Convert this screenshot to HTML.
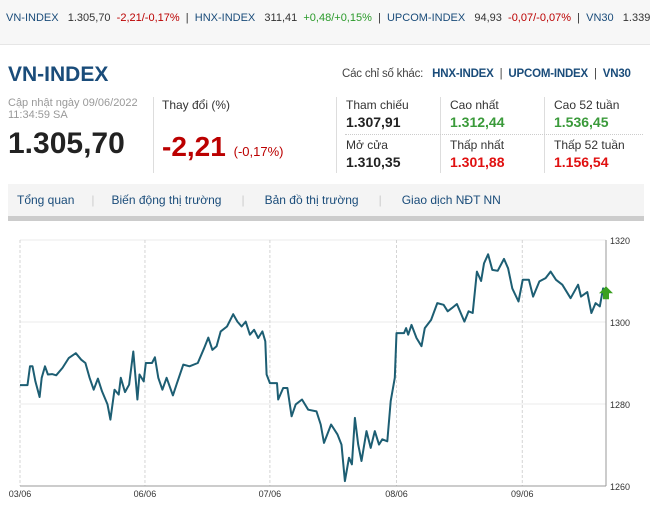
<!DOCTYPE html>
<html><head><meta charset="utf-8">
<style>
body{margin:0;width:650px;height:513px;background:#fff;font-family:"Liberation Sans",sans-serif;position:relative;overflow:hidden}
.a{position:absolute;white-space:nowrap}
.tk{font-size:11px;color:#333}
.blue{color:#1a4c7a}
.red{color:#b00}
.grn{color:#2a9a2a}
.lbl{font-size:12px;color:#333}
.val{font-size:14px;font-weight:bold;color:#222}
</style></head><body>
<div class="a" style="left:0;top:0;width:650px;height:44px;background:#f7f7f7;border-bottom:1px solid #e6e6e6"></div>
<div class="a tk" style="left:6px;top:12px;font-size:11px">
<span class="blue">VN-INDEX</span>&nbsp;&nbsp; 1.305,70 &nbsp;<span class="red">-2,21/-0,17%</span> &nbsp;| &nbsp;<span class="blue">HNX-INDEX</span>&nbsp;&nbsp; 311,41 &nbsp;<span class="grn">+0,48/+0,15%</span> &nbsp;| &nbsp;<span class="blue">UPCOM-INDEX</span>&nbsp;&nbsp; 94,93 &nbsp;<span class="red">-0,07/-0,07%</span> &nbsp;| &nbsp;<span class="blue">VN30</span>&nbsp;&nbsp; 1.339,0</div>

<div class="a blue" style="left:8px;top:63px;font-size:21px;font-weight:bold">VN-INDEX</div>
<div class="a" style="left:342px;top:68px;font-size:11.5px;color:#444;letter-spacing:-0.2px">Các chỉ số khác: &nbsp; <span class="blue" style="font-weight:bold">HNX-INDEX</span> &nbsp;| &nbsp;<span class="blue" style="font-weight:bold">UPCOM-INDEX</span> &nbsp;| &nbsp;<span class="blue" style="font-weight:bold">VN30</span></div>

<div class="a" style="left:8px;top:97px;font-size:11px;color:#999;line-height:12px">Cập nhật ngày 09/06/2022<br>11:34:59 SA</div>
<div class="a" style="left:8px;top:127px;font-size:30px;font-weight:bold;color:#222">1.305,70</div>
<div class="a" style="left:153px;top:97px;width:1px;height:76px;background:#ddd"></div>
<div class="a lbl" style="left:162px;top:98px">Thay đổi (%)</div>
<div class="a red" style="left:162px;top:131px;font-size:28px;font-weight:bold">-2,21 <span style="font-size:13px;font-weight:normal">(-0,17%)</span></div>

<div class="a" style="left:336px;top:97px;width:1px;height:76px;background:#ddd"></div>
<div class="a" style="left:440px;top:97px;width:1px;height:76px;background:#ddd"></div>
<div class="a" style="left:544px;top:97px;width:1px;height:76px;background:#ddd"></div>
<div class="a" style="left:345px;top:134px;width:298px;border-top:1px dotted #ccc"></div>
<div class="a lbl" style="left:346px;top:98px">Tham chiếu</div>
<div class="a val" style="left:346px;top:114px">1.307,91</div>
<div class="a lbl" style="left:346px;top:138px">Mở cửa</div>
<div class="a val" style="left:346px;top:154px">1.310,35</div>
<div class="a lbl" style="left:450px;top:98px">Cao nhất</div>
<div class="a val" style="left:450px;top:114px;color:#3a9a3a">1.312,44</div>
<div class="a lbl" style="left:450px;top:138px">Thấp nhất</div>
<div class="a val" style="left:450px;top:154px;color:#e01010">1.301,88</div>
<div class="a lbl" style="left:554px;top:98px">Cao 52 tuần</div>
<div class="a val" style="left:554px;top:114px;color:#3a9a3a">1.536,45</div>
<div class="a lbl" style="left:554px;top:138px">Thấp 52 tuần</div>
<div class="a val" style="left:554px;top:154px;color:#e01010">1.156,54</div>

<div class="a" style="left:8px;top:184px;width:636px;height:32px;background:#f4f4f4;border-bottom:5px solid #ccc"></div>
<div class="a blue" style="left:17px;top:193px;font-size:12px;color:#1a4c7a">
<span>Tổng quan</span><span style="color:#ccc;margin:0 17px">|</span><span>Biến động thị trường</span><span style="color:#ccc;margin:0 20px">|</span><span>Bản đồ thị trường</span><span style="color:#ccc;margin:0 20px">|</span><span>Giao dịch NĐT NN</span></div>

<svg class="a" id="chart" style="left:0;top:230px" width="650" height="283"></svg>
<script>
const yTicks=[1260,1280,1300,1320];
const dayLabels=["03/06","06/06","07/06","08/06","09/06"];
const dayStarts=[48,348,648,952,1254];
const timeIdx=[48,66,72,78,85,95,100,108,115,125,135,150,165,182,195,205,215,225,235,245,258,265,275,285,290,300,310,320,330,335,345,350,365,372,380,390,400,415,425,440,455,475,490,500,510,520,530,545,560,570,580,590,600,610,620,630,637,640,648,665,668,680,690,700,710,725,740,760,770,778,795,810,820,828,838,845,852,860,868,880,890,900,910,918,930,938,948,952,970,975,980,988,1000,1012,1020,1035,1050,1065,1075,1085,1097,1115,1125,1135,1145,1155,1162,1172,1182,1195,1210,1220,1230,1245,1255,1270,1280,1295,1310,1322,1335,1350,1370,1388,1395,1410,1420,1430,1440,1448,1455];
const values=[1284.6,1284.6,1289.2,1289.2,1285.5,1281.7,1286.4,1289.2,1287.2,1287.3,1287.0,1288.8,1291.2,1292.4,1290.8,1290.0,1286.4,1283.5,1286.2,1283.1,1279.9,1276.2,1283.5,1282.3,1286.4,1282.9,1284.7,1292.8,1281.1,1287.2,1285.5,1290.0,1290.0,1291.4,1286.4,1283.5,1286.4,1282.1,1285.1,1289.6,1289.2,1290.0,1293.6,1296.2,1293.2,1294.1,1297.7,1298.9,1301.9,1300.1,1298.9,1300.1,1296.9,1298.1,1296.1,1297.7,1295.3,1287.2,1285.1,1285.1,1281.1,1283.9,1283.9,1277.0,1279.9,1281.1,1278.6,1278.2,1275.0,1270.5,1275.0,1272.6,1270.1,1261.2,1266.9,1265.3,1276.6,1270.1,1266.1,1273.4,1269.3,1273.4,1270.1,1271.4,1270.9,1280.7,1286.4,1297.3,1297.3,1298.5,1296.9,1299.3,1296.1,1294.1,1298.5,1300.5,1304.6,1304.2,1302.6,1303.4,1304.4,1300.1,1302.6,1302.2,1312.3,1310.0,1314.3,1316.5,1312.7,1312.5,1315.4,1313.1,1308.2,1305.0,1310.3,1310.3,1306.2,1309.9,1310.7,1312.3,1310.3,1309.1,1305.8,1309.1,1306.2,1307.3,1302.2,1304.6,1303.8,1308.2,1307.0];
const NS="http://www.w3.org/2000/svg";
const svg=document.getElementById('chart');
const X0=20,X1=606,Y0=10,Y1=256;
const tMin=48,tMax=1455,vMin=1260,vMax=1320;
function xs(t){return X0+(t-tMin)/(tMax-tMin)*(X1-X0);}
function ys(v){return Y1-(v-vMin)/(vMax-vMin)*(Y1-Y0);}
function mk(tag,at){const e=document.createElementNS(NS,tag);for(const k in at)e.setAttribute(k,at[k]);svg.appendChild(e);return e;}
yTicks.forEach(v=>{
 const l=mk('line',{x1:X0,x2:X1,y1:ys(v),y2:ys(v),stroke:'#ebebeb'});
 
 
 const t=mk('text',{x:X1+4,y:ys(v)+4,'font-size':9,fill:'#333','font-family':'Liberation Sans'});
 t.textContent=v;
 
 
});
dayStarts.forEach((d,i)=>{
 const l=mk('line',{x1:xs(d),x2:xs(d),y1:Y0,y2:Y1,stroke:'#d4d4d4','stroke-dasharray':'3,2'});
 
 
 const t=mk('text',{x:xs(d),y:Y1+11,'font-size':9,fill:'#333','text-anchor':'middle','font-family':'Liberation Sans'});
 t.textContent=dayLabels[i];
 
 
});
const ax=mk('line',{x1:X0,x2:X1,y1:Y1,y2:Y1,stroke:'#999'});


const ay=mk('line',{x1:X1,x2:X1,y1:Y0,y2:Y1,stroke:'#999'});


let d='';timeIdx.forEach((t,i)=>{d+=(i?'L':'M')+xs(t).toFixed(1)+','+ys(values[i]).toFixed(1);});
const p=mk('path',{d:d,fill:'none',stroke:'#1d5e73','stroke-width':2,'stroke-linejoin':'round'});


const lx=xs(timeIdx[timeIdx.length-1]),ly=ys(values[values.length-1]);
const ar=mk('polygon',{points:`${lx},${ly-7} ${lx+7},${ly} ${lx+3},${ly} ${lx+3},${ly+6} ${lx-3},${ly+6} ${lx-3},${ly} ${lx-7},${ly}`,fill:'#3aa020'});


</script>
</body></html>
